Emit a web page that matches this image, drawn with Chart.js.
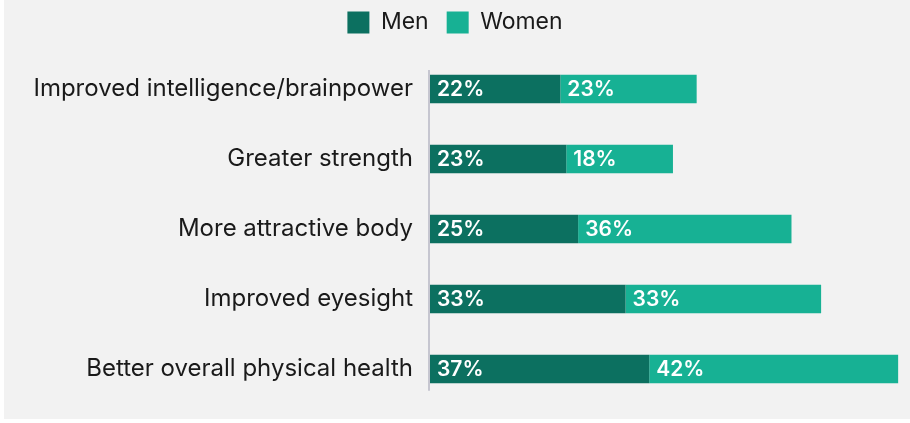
<!DOCTYPE html>
<html><head><meta charset="utf-8">
<script src="https://cdn.jsdelivr.net/npm/chart.js@4/dist/chart.umd.min.js"></script>
<style>html,body{margin:0;padding:0;background:#fff;}#wrap{width:910px;height:423px;}</style>
</head><body><div id="wrap"><canvas id="c" width="910" height="423"></canvas></div>
<script>
const categories = ["Improved intelligence/brainpower","Greater strength","More attractive body","Improved eyesight","Better overall physical health"];
const men = [22, 23, 25, 33, 37];
const women = [23, 18, 36, 33, 42];
const seriesNames = ["Men", "Women"];

const FONT = "Inter, 'Noto Sans', sans-serif";

const bgPlugin = {
  id: 'bg',
  beforeDraw(chart) {
    const ctx = chart.ctx;
    ctx.save();
    ctx.fillStyle = '#ffffff';
    ctx.fillRect(0, 0, chart.width, chart.height);
    ctx.fillStyle = '#f2f2f2';
    ctx.fillRect(4, 0, chart.width - 4, 419);
    ctx.restore();
  }
};

const legendGapPlugin = {
  id: 'legendGap',
  beforeInit(chart) {
    const lg = chart.legend;
    if (!lg) return;
    const origFit = lg.fit;
    lg.fit = function () {
      origFit.call(this);
      this.height += 10;
    };
  }
};

const axisLinePlugin = {
  id: 'axisLine',
  beforeDatasetsDraw(chart) {
    const y = chart.scales.y, x = chart.scales.x;
    const ctx = chart.ctx;
    const step = y.getPixelForValue(1) - y.getPixelForValue(0);
    const top = y.getPixelForValue(0) - step * 0.27;
    const bottom = y.getPixelForValue(categories.length - 1) + step * 0.31;
    const px = x.getPixelForValue(0) - 1;
    ctx.save();
    ctx.strokeStyle = '#c6c6d0';
    ctx.lineWidth = 2;
    ctx.beginPath();
    ctx.moveTo(px, top);
    ctx.lineTo(px, bottom);
    ctx.stroke();
    ctx.restore();
  }
};

const labelPlugin = {
  id: 'barLabels',
  afterDatasetsDraw(chart) {
    const ctx = chart.ctx;
    ctx.save();
    ctx.fillStyle = '#ffffff';
    ctx.font = "600 21px " + FONT;
    ctx.textBaseline = 'middle';
    ctx.textAlign = 'left';
    chart.data.datasets.forEach((ds, di) => {
      const meta = chart.getDatasetMeta(di);
      meta.data.forEach((el, i) => {
        const left = Math.min(el.base, el.x);
        ctx.fillText(ds.data[i] + '%', left + 7, el.y + 1);
      });
    });
    ctx.restore();
  }
};

new Chart(document.getElementById('c'), {
  type: 'bar',
  data: {
    labels: categories,
    datasets: [
      { label: seriesNames[0], data: men, backgroundColor: '#0c7060', borderWidth: 0, barPercentage: 0.82, categoryPercentage: 0.5 },
      { label: seriesNames[1], data: women, backgroundColor: '#17b194', borderWidth: 0, barPercentage: 0.82, categoryPercentage: 0.5 }
    ]
  },
  options: {
    indexAxis: 'y',
    responsive: false,
    animation: false,
    devicePixelRatio: 1,
    layout: { padding: { left: 0, right: 0, top: -7, bottom: 19 } },
    plugins: {
      legend: {
        position: 'top',
        labels: {
          boxWidth: 22, boxHeight: 22, padding: 18,
          color: '#1a1a1a',
          font: { family: FONT, size: 23 }
        }
      },
      tooltip: { enabled: false }
    },
    scales: {
      x: {
        stacked: true, min: 0, max: 81, display: false
      },
      y: {
        stacked: true,
        grid: { display: false },
        border: { display: false },
        afterFit(scale) { scale.width = 430; scale.paddingTop = 0; scale.paddingBottom = 0; },
        ticks: { color: '#1a1a1a', font: { family: FONT, size: 24 }, padding: 9 }
      }
    }
  },
  plugins: [bgPlugin, legendGapPlugin, axisLinePlugin, labelPlugin]
});
</script>
</body></html>
